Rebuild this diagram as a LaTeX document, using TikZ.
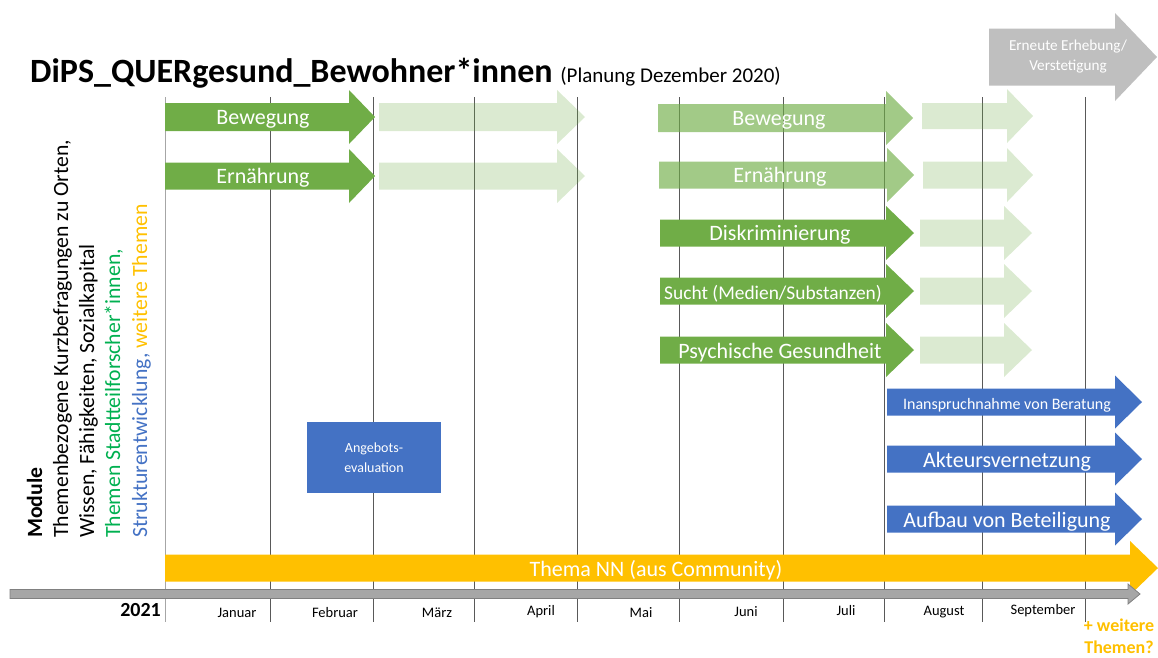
\documentclass[tikz,border=0pt]{standalone}
\usepackage{fontspec}
\setmainfont{Carlito}
\definecolor{cgreen}{HTML}{70AD47}
\definecolor{cblue}{HTML}{4472C4}
\definecolor{cyellow}{HTML}{FFC000}
\definecolor{cgreentext}{HTML}{00B050}
\definecolor{cgrey}{HTML}{BFBFBF}
\definecolor{ctl}{HTML}{A6A6A6}
\definecolor{cline}{HTML}{595959}
\newcommand\harrow[7]{%
  \fill[#1] (#2,#5-#6) -- (#3,#5-#6) -- (#3,#5-#7) -- (#4,#5) -- (#3,#5+#7) -- (#3,#5+#6) -- (#2,#5+#6) -- cycle;}
\tikzset{
  darkarrow/.style={fill=cgreen},
  midarrow/.style={fill=cgreen,fill opacity=0.65},
  lightarrow/.style={fill=cgreen,fill opacity=0.25},
  bluearrow/.style={fill=cblue},
  yellowarrow/.style={fill=cyellow},
  greyarrow/.style={fill=cgrey},
  tlarrow/.style={fill=ctl,draw=gray,line width=0.8pt},
  monthline/.style={draw=cline,line width=0.9pt},
  lbl/.style={text=white,inner sep=0pt,yshift=-2pt,font=\fontsize{22}{26}\selectfont},
  month/.style={inner sep=0pt,font=\fontsize{14.5}{17}\selectfont},
  sidetext/.style={rotate=90,anchor=base west,inner sep=0pt,font=\fontsize{21.7}{26}\selectfont},
}
\begin{document}
\begin{tikzpicture}[x=1pt,y=-1pt]
\useasboundingbox (0,0) rectangle (1158,657);
% month grid lines
\draw[draw=ctl,line width=0.9pt] (165,97) -- (165,622);
\foreach \x in {270,373,474,577,679,783,884,982,1085}{
  \draw[monthline] (\x,97) -- (\x,622);
}
% title
\node[anchor=base west,inner sep=0pt] (title) at (30,82)
  {\fontsize{34}{40}\selectfont\bfseries DiPS\_QUERgesund\_Bewohner*innen\ \fontsize{21}{25}\selectfont\mdseries(Planung Dezember 2020)};
% top grey arrow
\harrow{greyarrow}{989}{1115}{1157}{57}{28.5}{44}
\node[text=white,align=center,inner sep=0pt,font=\fontsize{15.2}{20}\selectfont] (erneut) at (1068,57) {Erneute Erhebung/\\Verstetigung};
% first green group
\harrow{darkarrow}{165}{349}{375}{117}{14}{27}
\harrow{darkarrow}{165}{349}{375}{176}{13.5}{27}
\harrow{lightarrow}{379}{557}{585}{117}{14}{27}
\harrow{lightarrow}{379}{557}{585}{176}{13.5}{27}
\node[lbl] (bew1) at (263,117) {Bewegung};
\node[lbl] (ern1) at (263,176) {Ernährung};
% second green group
\harrow{midarrow}{658}{886}{913}{118}{14}{27}
\harrow{lightarrow}{922}{1007}{1033}{116}{13}{27}
\harrow{midarrow}{659}{887}{914}{175}{13.5}{27}
\harrow{lightarrow}{923}{1007}{1033}{175}{13.5}{27}
\harrow{darkarrow}{660}{886}{914}{233}{13.5}{27}
\harrow{lightarrow}{920}{1004}{1032}{233}{13.5}{27}
\harrow{darkarrow}{660}{886}{914}{291}{13.5}{27}
\harrow{lightarrow}{920}{1004}{1032}{291}{13.5}{27}
\harrow{darkarrow}{660}{886}{914}{350}{13.5}{27}
\harrow{lightarrow}{920}{1004}{1032}{350}{13.5}{27}
\node[lbl] (bew2) at (779,118) {Bewegung};
\node[lbl] (ern2) at (780,175) {Ernährung};
\node[lbl] (disk) at (780,233) {Diskriminierung};
\node[lbl,font=\fontsize{19.4}{23}\selectfont] (sucht) at (773,292) {Sucht (Medien/Substanzen)};
\node[lbl] (psych) at (780,351) {Psychische Gesundheit};
% blue arrows
\harrow{bluearrow}{887}{1115}{1142}{402}{13.5}{26.5}
\harrow{bluearrow}{887}{1115}{1142}{459}{13.5}{26.5}
\harrow{bluearrow}{887}{1115}{1142}{519}{13.5}{26.5}
\node[lbl,font=\fontsize{16}{19}\selectfont] (inan) at (1007,403) {Inanspruchnahme von Beratung};
\node[lbl] (akt) at (1007,460) {Akteursvernetzung};
\node[lbl] (aufb) at (1007,520) {Aufbau von Beteiligung};
% Angebotsevaluation
\node[fill=cblue,text=white,minimum width=134pt,minimum height=71pt,inner sep=0pt,align=center,font=\fontsize{14}{20}\selectfont] (angebot) at (374,457.5) {Angebots-\\evaluation};
% yellow arrow
\harrow{yellowarrow}{165}{1130}{1158}{568}{13.5}{27}
\node[lbl] (thema) at (656,568) {Thema NN (aus Community)};
% timeline
\fill[tlarrow] (10,589.5) -- (1128,589.5) -- (1128,584) -- (1140,594) -- (1128,604) -- (1128,598.5) -- (10,598.5) -- cycle;
% months
\node[month] (jan) at (237,613) {Januar};
\node[month] (feb) at (335,613) {Februar};
\node[month] (mar) at (437,613) {März};
\node[month] (apr) at (541,612) {April};
\node[month] (mai) at (641,613) {Mai};
\node[month] (jun) at (746,612) {Juni};
\node[month] (jul) at (846,611) {Juli};
\node[month] (aug) at (944,612) {August};
\node[month] (sep) at (1043,611) {September};
\node[anchor=east,inner sep=0pt,font=\fontsize{20}{24}\selectfont\bfseries] (year) at (161,610) {2021};
\node[text=cyellow,align=center,inner sep=0pt,font=\fontsize{18}{22}\selectfont\bfseries] (weitere) at (1119,636) {+ weitere\\Themen?};
% side text
\node[sidetext,font=\fontsize{21.7}{26}\selectfont\bfseries] (mod) at (42,538) {Module};
\node[sidetext] (l2) at (68,538) {Themenbezogene Kurzbefragungen zu Orten,};
\node[sidetext] (l3) at (94,538) {Wissen, Fähigkeiten, Sozialkapital};
\node[sidetext,text=cgreentext] (l4) at (120,538) {Themen Stadtteilforscher*innen,};
\node[sidetext] (l5) at (147,538) {\textcolor{cblue}{Strukturentwicklung,} \textcolor{cyellow}{weitere Themen}};
\end{tikzpicture}
\end{document}
